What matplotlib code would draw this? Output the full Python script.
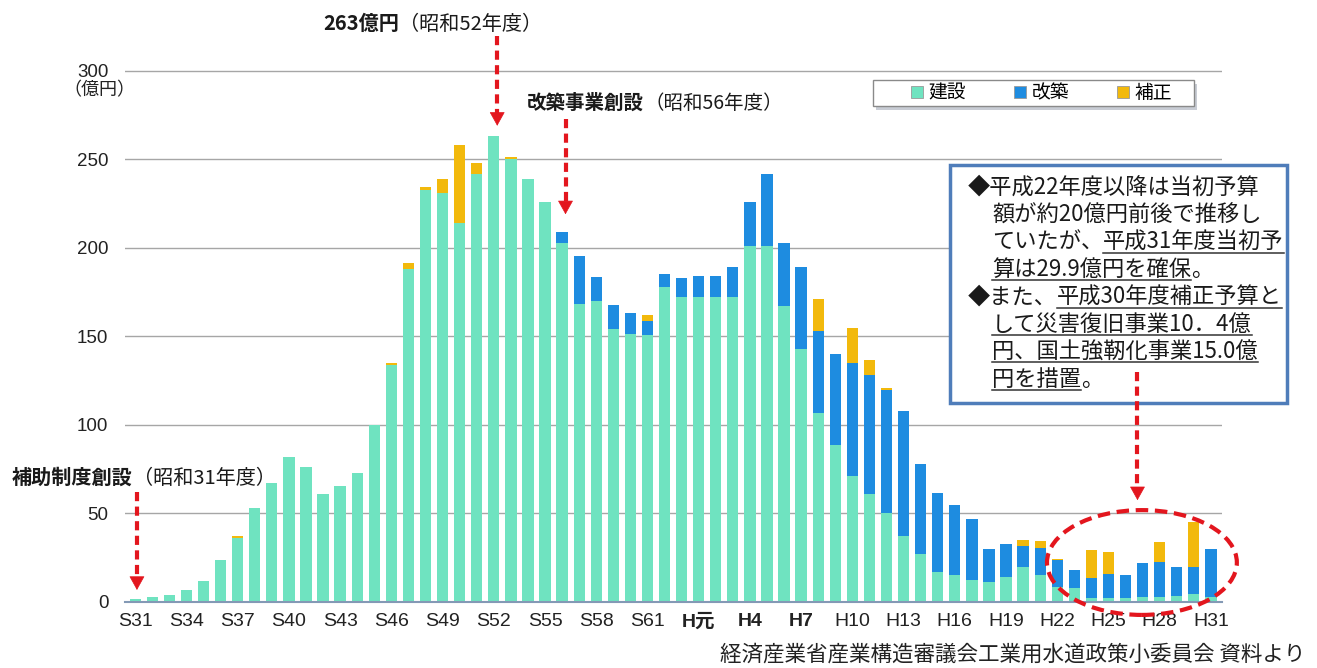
import numpy as np
import matplotlib.pyplot as plt
from matplotlib.lines import Line2D
from matplotlib.patches import Rectangle, Ellipse

plt.rcParams['font.family'] = ['Noto Sans CJK JP', 'DejaVu Sans']

W, H = 1317, 668

# 年度 S31(1956) .. H31(2019)
years = ['S%d' % y for y in range(31, 64)] + ['H元'] + ['H%d' % y for y in range(2, 32)]

# 建設 (億円)
kensetsu = [1.5, 2.8, 4, 7, 12, 24, 36, 53, 67, 82,
            76, 61, 65.5, 73, 100, 134, 188, 233, 231, 214,
            242, 263, 250, 239, 226, 203, 168.5, 170, 154, 151.5,
            151, 178, 172,
            172, 172, 172, 201, 201, 167, 143, 107, 88.5, 71,
            61, 50, 37, 27, 17, 15, 12.4, 11.5, 14, 20,
            15, 8.5, 8, 2, 2, 2, 3, 3, 3.5, 4.5, 3]
# 改築
kaichiku = [0, 0, 0, 0, 0, 0, 0, 0, 0, 0,
            0, 0, 0, 0, 0, 0, 0, 0, 0, 0,
            0, 0, 0, 0, 0, 6, 27, 13.5, 14, 11.5,
            8, 7.5, 11,
            12.4, 12.4, 17.5, 24.7, 41, 36, 46, 46, 51.5, 64,
            67, 69.6, 71, 51, 44.5, 40, 34.6, 18.5, 19, 11.8,
            15.5, 15.5, 10, 11.5, 14, 13, 19, 19.6, 16.5, 15.2, 26.9]
# 補正
hosei = [0, 0, 0, 0, 0, 0, 1, 0, 0, 0,
         0, 0, 0, 0, 0, 1.2, 3.5, 1.5, 8, 44,
         6.2, 0, 1.5, 0, 0, 0, 0, 0, 0, 0,
         3, 0, 0,
         0, 0, 0, 0, 0, 0, 0, 18, 0, 20,
         8.5, 1.5, 0, 0, 0, 0, 0, 0, 0, 3.2,
         4, 0.5, 0, 15.8, 12, 0, 0, 11.4, 0, 25.4, 0]

green = '#6FE3C0'
blue = '#1E8CE0'
yellow = '#F2B90C'
red = '#E3161E'

fig = plt.figure(figsize=(W / 100, H / 100), dpi=100)
ax = fig.add_axes([125 / W, 1 - 602 / H, 1097 / W, 532 / H])

x = np.arange(len(years))
k = np.array(kensetsu)
c = np.array(kaichiku)
h = np.array(hosei)
bw = 0.66
ax.bar(x, k, bw, color=green, zorder=2)
ax.bar(x, c, bw, bottom=k, color=blue, zorder=2)
ax.bar(x, h, bw, bottom=k + c, color=yellow, zorder=2)

ax.set_xlim(-0.6, 63.65)
ax.set_ylim(0, 300.5)
ax.set_yticks(range(0, 301, 50))
ax.set_yticklabels([str(v) for v in range(0, 301, 50)], family=['Liberation Sans', 'Noto Sans CJK JP'])
ticks = list(range(0, 64, 3))
ax.set_xticks(ticks)
ax.set_xticklabels([years[i] for i in ticks], family=['Liberation Sans', 'Noto Sans CJK JP'])
for lab in ax.get_xticklabels():
    if lab.get_text() in ('H元', 'H4', 'H7'):
        lab.set_fontweight('bold')
ax.tick_params(axis='y', length=0, pad=12, labelsize=13.5, colors='#222222')
ax.tick_params(axis='x', length=0, pad=8, labelsize=14, colors='#222222')
ax.yaxis.grid(True, color='#A6A6A6', lw=1)
ax.set_axisbelow(True)
for s in ['top', 'right', 'left']:
    ax.spines[s].set_visible(False)
ax.spines['bottom'].set_color('#8499B5')
ax.spines['bottom'].set_linewidth(1.5)

fig.text(99 / W, 1 - 90 / H, '（億円）', ha='center', va='center', fontsize=13, color='#222222')


def ax_px(px, py):
    return (px - 125) / 1097, (602 - py) / 532


# legend box
lx0, ly0 = ax_px(873, 106)
lx1, ly1 = ax_px(1194, 80)
ax.add_patch(Rectangle((lx0 + 0.003, ly0 - 0.008), lx1 - lx0, ly1 - ly0, transform=ax.transAxes,
                       facecolor='#C8CCD4', edgecolor='none', clip_on=False, zorder=4))
ax.add_patch(Rectangle((lx0, ly0), lx1 - lx0, ly1 - ly0, transform=ax.transAxes,
                       facecolor='white', edgecolor='#8A8A8A', lw=1, clip_on=False, zorder=4))
handles = [Line2D([], [], marker='s', ls='none', ms=8, mfc=col, mec='#999999', mew=0.6)
           for col in (green, blue, yellow)]
leg = ax.legend(handles, ['建設', '改築', '補正'], ncol=3, loc='center',
                bbox_to_anchor=(1040 / W, 1 - 93 / H), bbox_transform=fig.transFigure,
                frameon=False, fontsize=13.5, handletextpad=0.1, columnspacing=2.4,
                handlelength=1.0, borderpad=0.2)
leg.set_zorder(7)

# text box
bx0, by0 = ax_px(950, 403)
bx1, by1 = ax_px(1287, 165)
ax.add_patch(Rectangle((bx0, by0), bx1 - bx0, by1 - by0, transform=ax.transAxes,
                       facecolor='white', edgecolor='#4F7DBA', lw=2.5, clip_on=False, zorder=5))


def dashed_arrow(xd, y0, y1):
    ax.plot([xd, xd], [y0, y1 + 5], color=red, lw=3, ls=(0, (2.2, 1.3)), clip_on=False, zorder=6)
    ax.annotate('', xy=(xd, y1), xytext=(xd, y1 + 7),
                arrowprops=dict(arrowstyle='-|>,head_width=0.5,head_length=0.9', color=red,
                                lw=0.5, shrinkA=0, shrinkB=0),
                annotation_clip=False, zorder=6)


dashed_arrow(21.2, 319.7, 269)
dashed_arrow(25.2, 273, 219)
dashed_arrow(0.1, 62, 6.8)
dashed_arrow(58.7, 129.7, 57.5)

ax.add_patch(Ellipse((58.96, 22.3), 11.12, 59.2, fill=False, edgecolor=red, lw=3,
                     ls=(0, (3, 1.6)), clip_on=False, zorder=6))

renderer = fig.canvas.get_renderer()


def put_segments(x_px, y_px, segs, size):
    xx = x_px
    for s, st in segs:
        t = fig.text(xx / W, 1 - y_px / H, s, fontsize=size, ha='left', va='baseline',
                     fontweight='bold' if 'b' in st else 'normal', color='#1A1A1A', zorder=8)
        bb = t.get_window_extent(renderer=renderer)
        if 'u' in st:
            fig.add_artist(Line2D([bb.x0 / W, bb.x1 / W], [(H - y_px - 4) / H] * 2,
                                  transform=fig.transFigure, color='#333333', lw=1.1, zorder=8))
        xx = bb.x1


# annotations
put_segments(323, 30, [('263億円', 'b'), ('（昭和52年度）', '')], 14.5)
put_segments(527, 109, [('改築事業創設', 'b'), ('（昭和56年度）', '')], 14)
put_segments(12, 484, [('補助制度創設', 'b'), ('（昭和31年度）', '')], 14.5)

box_lines = [
    (968, [('◆平成22年度以降は当初予算', '')]),
    (992, [('額が約20億円前後で推移し', '')]),
    (992, [('ていたが、', ''), ('平成31年度当初予', 'u')]),
    (992, [('算は29.9億円を確保', 'u'), ('。', '')]),
    (968, [('◆また、', ''), ('平成30年度補正予算と', 'u')]),
    (992, [('して災害復旧事業10．4億', 'u')]),
    (992, [('円、国土強靭化事業15.0億', 'u')]),
    (992, [('円を措置', 'u'), ('。', '')]),
]
for n, (x0, segs) in enumerate(box_lines):
    put_segments(x0, 194 + 27.4 * n, segs, 16)

fig.text(1305 / W, 1 - 661 / H, '経済産業省産業構造審議会工業用水道政策小委員会 資料より',
         ha='right', va='baseline', fontsize=15.5, color='#222222')

fig.savefig('out.png', dpi=100)
